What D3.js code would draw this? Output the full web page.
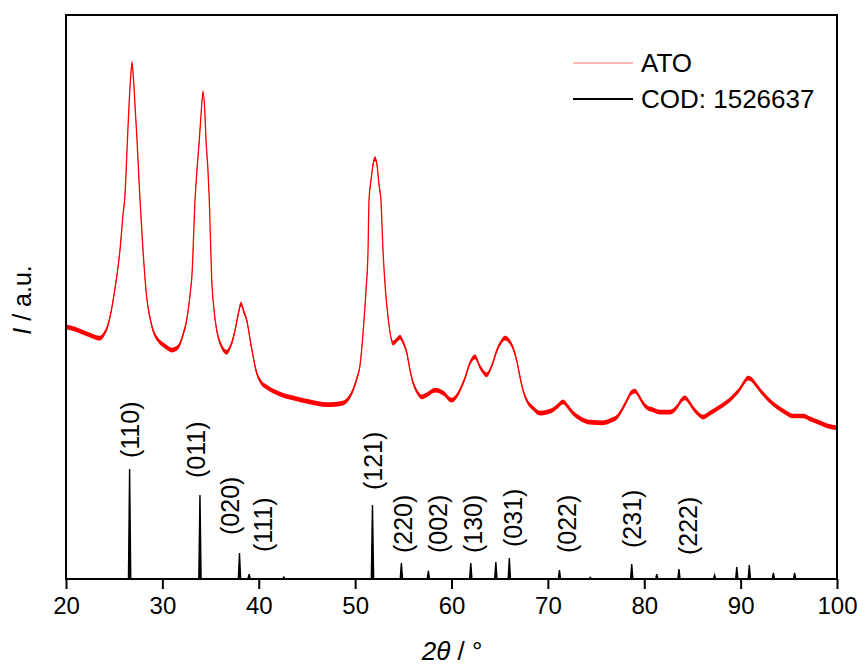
<!DOCTYPE html>
<html>
<head>
<meta charset="utf-8">
<script src="https://cdn.jsdelivr.net/npm/d3@7"></script>
<style>
  html, body { margin: 0; padding: 0; background: #fff; }
  svg { display: block; }
  text { font-family: "Liberation Sans", Arial, sans-serif; fill: #000; }
</style>
</head>
<body>
<svg id="chart" width="857" height="666"></svg>
<script>
// ---------- DATA ----------
// ATO measured pattern (2θ in degrees, intensity in a.u.)
const atoTwoTheta = [20.00,20.93,21.97,23.01,23.53,23.94,24.36,24.67,24.98,25.29,25.60,25.91,26.12,26.33,26.54,26.69,26.85,27.01,27.16,27.37,27.68,27.99,28.37,28.72,29.03,29.55,30.27,31.00,31.62,32.14,32.52,32.87,33.07,33.39,33.59,33.83,34.01,34.22,34.42,34.53,34.73,34.87,35.12,35.36,35.64,36.08,36.67,37.12,37.54,37.85,38.16,38.47,38.75,39.20,39.79,40.23,40.83,42.21,43.55,45.32,47.08,48.74,49.36,49.78,50.19,50.51,50.92,51.13,51.34,51.44,51.65,51.85,52.06,52.27,52.48,52.68,52.89,53.15,53.41,53.93,54.24,54.66,54.97,55.35,55.69,56.01,56.42,56.91,57.56,58.29,59.12,60.02,60.47,60.88,61.40,61.92,62.44,62.96,63.65,64.20,64.72,65.14,65.55,66.07,66.38,66.80,67.11,67.42,67.80,68.46,69.18,69.91,70.53,71.05,71.57,72.09,72.61,73.33,74.37,75.72,76.65,77.17,77.69,78.21,78.63,79.04,79.46,79.87,80.39,80.91,81.64,82.67,83.40,83.81,84.23,84.64,85.06,85.58,86.10,86.82,87.86,89.21,89.93,90.45,90.76,91.18,91.59,92.01,92.84,93.77,94.60,95.43,95.95,96.47,97.20,98.24,99.07,100.00];
const atoIntensity = [44.7,44.3,43.6,42.9,42.7,43.4,45.0,47.3,50.4,53.9,58.3,64.5,68.1,76.1,84.0,88.5,91.5,88.5,84.0,77.8,67.2,58.3,50.0,46.3,44.1,42.4,41.3,40.6,41.1,43.3,45.9,50.4,53.9,67.2,72.5,77.8,82.3,86.3,82.3,77.8,72.5,67.2,53.0,47.7,44.1,41.5,40.2,41.5,44.1,46.8,48.8,47.3,45.9,41.5,36.5,34.9,34.0,32.8,32.1,31.4,30.9,31.2,32.1,33.5,35.6,37.9,45.9,51.2,58.3,67.2,70.7,73.4,74.6,73.4,69.9,67.2,58.3,51.2,46.5,41.8,42.2,42.9,42.0,40.2,37.1,34.8,33.2,32.3,32.8,33.5,33.0,31.7,32.3,33.5,35.6,38.3,39.4,37.6,36.2,37.9,40.6,42.0,42.7,42.0,41.0,38.5,35.8,33.5,31.7,30.3,29.4,29.6,30.0,30.7,31.4,30.5,29.4,28.5,27.8,27.7,28.2,28.7,30.0,31.7,33.0,33.3,32.4,31.2,30.3,30.0,29.6,29.6,30.5,31.6,32.1,31.4,30.3,29.3,28.7,29.4,30.5,32.3,33.7,35.1,35.6,35.3,34.4,33.5,31.9,30.5,29.6,28.9,28.9,28.9,28.4,27.7,27.1,26.8];

// COD 1526637 reference reflections (2θ, relative intensity)
const codTwoTheta = [26.6,33.9,38.0,39.0,42.6,51.8,54.8,57.6,62.0,64.6,66.0,71.2,74.4,78.7,81.3,83.6,87.3,89.6,90.9,93.4,95.6];
const codIntensity = [100,76.4,23.6,4.5,1.8,67.3,14.5,7.3,14.5,15.5,19.1,8.2,1.5,13.6,4.5,9.1,3.6,10.9,12.7,5.5,5.5];

// Miller index labels (text, 2θ of label, label level on reference scale)
const hklText  = ["(110)","(011)","(020)","(111)","(121)","(220)","(002)","(130)","(031)","(022)","(231)","(222)"];
const hklTwoTheta = [26.64,33.49,37.02,40.44,51.85,54.97,58.60,62.23,66.38,71.98,78.73,84.54];
const hklLevel = [110,91.8,40,24.5,80.9,23.6,23.6,23.6,29.1,23.6,28.2,21.8];

const xTicks = [20,30,40,50,60,70,80,90,100];
const legendLabels = ["ATO","COD: 1526637"];

// ---------- LAYOUT ----------
const L = 66, R = 837, T = 15, B = 579;
const svg = d3.select("#chart");

const x = d3.scaleLinear().domain([20,100]).range([L,R]);
const y = d3.scaleLinear().domain([0,100]).range([B,T]);
const yCod = d3.scaleLinear().domain([0,100]).range([B,B-110]);

const ato = atoTwoTheta.map((t,i)=>({t, v: atoIntensity[i]}));

// noise band (vertical spread) + centre line
const band = 0.42;
svg.append("path")
  .datum(ato)
  .attr("fill", "#ff0000")
  .attr("d", d3.area().x(d=>x(d.t)).y0(d=>y(d.v-band)).y1(d=>y(d.v+band)).curve(d3.curveMonotoneX));
svg.append("path")
  .datum(ato)
  .attr("fill", "none")
  .attr("stroke", "#ff0000")
  .attr("stroke-width", 1.3)
  .attr("d", d3.line().x(d=>x(d.t)).y(d=>y(d.v)).curve(d3.curveMonotoneX));

// reference stick pattern as one profile path
const codPts = [{t:20, v:0}];
codTwoTheta.forEach((t,i)=>{
  codPts.push({t: t-0.12, v:0});
  codPts.push({t: t, v: codIntensity[i]});
  codPts.push({t: t+0.12, v:0});
});
codPts.push({t:100, v:0});
svg.append("path")
  .datum(codPts)
  .attr("fill", "#000")
  .attr("stroke", "#000")
  .attr("stroke-width", 1.4)
  .attr("stroke-linejoin", "miter")
  .attr("d", d3.line().x(d=>x(d.t)).y(d=>yCod(d.v)));

// hkl labels
hklText.forEach((s,i)=>{
  const px = x(hklTwoTheta[i]), py = yCod(hklLevel[i]);
  svg.append("text")
    .attr("transform", `translate(${px},${py}) rotate(-90)`)
    .attr("dominant-baseline", "central")
    .attr("text-anchor", "start")
    .style("font-size", "25px")
    .text(s);
});

// frame
svg.append("rect")
  .attr("x", L).attr("y", T).attr("width", R-L).attr("height", B-T)
  .attr("fill", "none").attr("stroke", "#000").attr("stroke-width", 2);

// x axis
const xAxis = d3.axisBottom(x).tickValues(xTicks).tickSize(10).tickPadding(8).tickFormat(d3.format("d"));
const gx = svg.append("g").attr("transform", `translate(0,${B})`).call(xAxis);
gx.select(".domain").remove();
gx.selectAll(".tick line").attr("stroke", "#000").attr("stroke-width", 2);
gx.selectAll(".tick text")
  .style("font-family", "'Liberation Sans Narrow', 'Liberation Sans', Arial, sans-serif")
  .style("font-size", "24px").attr("fill", "#000");

// axis titles
const xt = svg.append("text").attr("x", 452).attr("y", 660).attr("text-anchor", "middle").style("font-size", "26px");
xt.append("tspan").style("font-style", "italic").text("2θ");
xt.append("tspan").text(" / °");

const yt = svg.append("text")
  .attr("transform", "translate(31,300) rotate(-90)")
  .attr("text-anchor", "middle").style("font-size", "25px");
yt.append("tspan").style("font-style", "italic").text("I");
yt.append("tspan").text(" / a.u.");

// legend
const lg = svg.append("g");
const legendColors = ["#ff0000","#000"];
const legendWidths = [1, 2];
legendLabels.forEach((s,i)=>{
  const yy = 63 + i*36;
  lg.append("line").attr("x1", 573).attr("x2", 633).attr("y1", yy).attr("y2", yy)
    .attr("stroke", legendColors[i]).attr("stroke-width", legendWidths[i]).attr("opacity", i===0?0.55:1);
  lg.append("text").attr("x", 641).attr("y", yy).attr("dominant-baseline", "central")
    .style("font-size", "26px").text(s);
});
</script>
</body>
</html>
